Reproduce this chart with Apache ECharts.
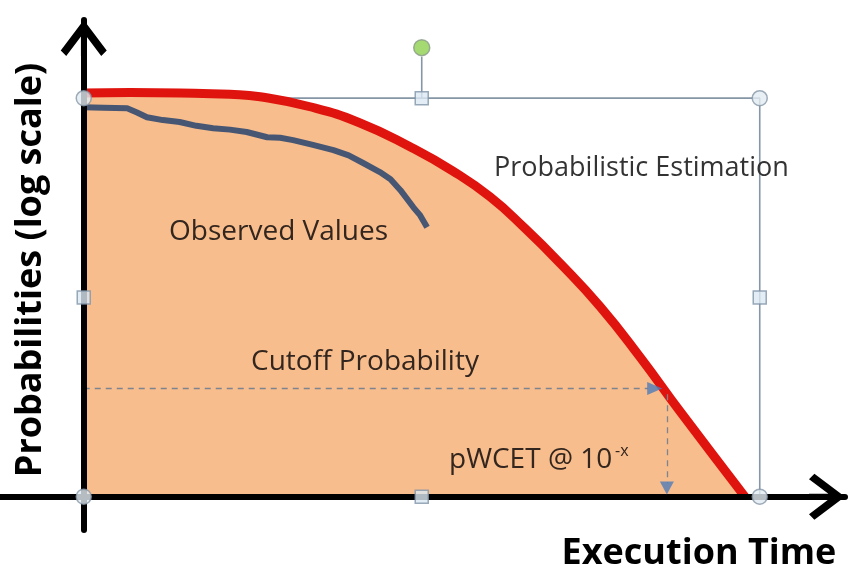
<!DOCTYPE html>
<html>
<head>
<meta charset="utf-8">
<script src="https://cdn.jsdelivr.net/npm/echarts@6/dist/echarts.min.js"></script>
<style>
  html, body { margin: 0; padding: 0; background: #fff; }
  #chart1 { width: 857px; height: 571px; }
</style>
</head>
<body>
<div id="chart1"></div>
<script>
(function(){

    // probabilistic estimation curve (execution time, log-probability level)
    var estX = [0, 6.08, 12.65, 19.22, 23.16, 29.72, 36.29, 42.86, 48.5, 53.37, 57.96, 62.56, 67.82, 73.07, 78.32, 86.86];
    var estY = [84.7, 84.8, 84.7, 84.4, 83.9, 81.8, 78.4, 73.4, 68.3, 62.9, 56.3, 49.0, 39.9, 29.3, 17.9, 0];

    // observed values
    var obsX = [0, 2.6, 5.7, 7.0, 8.3, 10.4, 12.6, 14.8, 17.0, 19.2, 21.4, 24.1, 25.8, 27.5, 30.1, 32.8, 34.8, 36.7, 38.9, 40.3, 41.6, 43.3, 44.2, 45.1];
    var obsY = [81.7, 81.6, 81.5, 80.6, 79.6, 79.0, 78.6, 77.8, 77.3, 77.0, 76.5, 75.4, 75.3, 74.8, 73.8, 72.7, 71.6, 70.0, 68.1, 66.6, 64.3, 60.7, 59.0, 56.5];

    // selection frame around the estimation
    var boxX = [0, 88.8, 88.8];
    var boxY = [83.6, 83.6, 0];
    var cornerHandles = [[0, 83.6], [88.8, 83.6], [0, 0], [88.8, 0]];
    var sideHandles = [[44.4, 83.6], [0, 41.8], [88.8, 41.8], [44.4, 0]];
    var rotateStem = [[44.4, 83.6], [44.4, 92.3]];
    var rotateKnob = [[44.4, 94.2]];

    // cutoff probability and pWCET
    var cutoffY = 22.7;
    var cutoffEndX = 74.1;
    var pwcetX = 76.6;
    var pwcetArrowY = 1.8;

    var chevron = 'path://M23 0 L46 30.6 L40.5 36 L25.8 16.6 L25.8 36 L20.2 36 L20.2 16.6 L5.5 36 L0 30.6 Z';

    function pairs(xs, ys){
        var out = [];
        for (var i = 0; i < xs.length; i++) out.push([xs[i], ys[i]]);
        return out;
    }

    var chart1 = echarts.init(document.getElementById('chart1'));

    var option = {
        animation: false,
        backgroundColor: '#ffffff',
        grid: { left: 0, right: 12, top: 20, bottom: 41 },
        xAxis: {
            type: 'value', min: -11, max: 100, z: 5,
            axisLine: { onZero: true, lineStyle: { color: '#000', width: 6 },
                symbol: ['none', chevron], symbolSize: [46, 36], symbolOffset: [0, -18] },
            axisTick: { show: false }, axisLabel: { show: false }, splitLine: { show: false }
        },
        yAxis: {
            type: 'value', min: -7, max: 100, z: 5,
            axisLine: { onZero: true, lineStyle: { color: '#000', width: 6 },
                symbol: ['none', chevron], symbolSize: [46, 36], symbolOffset: [0, -18] },
            axisTick: { show: false }, axisLabel: { show: false }, splitLine: { show: false }
        },
        series: [
            {
                type: 'line', data: pairs(boxX, boxY), symbol: 'none', z: 1,
                lineStyle: { color: '#8596a6', width: 1.6 }
            },
            {
                type: 'line', data: rotateStem, symbol: 'none', z: 1,
                lineStyle: { color: '#8596a6', width: 1.6 }
            },
            {
                name: 'Probabilistic Estimation', type: 'line', data: pairs(estX, estY),
                symbol: 'none', smooth: 0.5, z: 2,
                lineStyle: { color: '#e0140e', width: 9 },
                areaStyle: { color: '#f8bd8c', opacity: 1 }
            },
            {
                name: 'Observed Values', type: 'line', data: pairs(obsX, obsY),
                symbol: 'none', z: 3,
                lineStyle: { color: '#475673', width: 6, join: 'round' }
            },
            {
                type: 'line', data: [], z: 4,
                markLine: {
                    silent: true, symbol: 'none',
                    label: { show: false },
                    lineStyle: { color: '#7d8490', width: 1.3, type: [6, 5] },
                    data: [
                        [{ coord: [0, cutoffY] }, { coord: [cutoffEndX, cutoffY] }],
                        [{ coord: [pwcetX, cutoffY - 1.2] }, { coord: [pwcetX, pwcetArrowY + 1] }]
                    ]
                }
            },
            {
                type: 'scatter', z: 6, symbol: 'triangle', symbolSize: [13, 15], symbolRotate: -90,
                itemStyle: { color: '#4f7cb8' },
                data: [[cutoffEndX + 0.9, cutoffY]]
            },
            {
                type: 'scatter', z: 6, symbol: 'triangle', symbolSize: [14, 13], symbolRotate: 180,
                itemStyle: { color: '#4f7cb8' },
                data: [[pwcetX, pwcetArrowY]]
            },
            {
                type: 'scatter', z: 10, symbol: 'circle', symbolSize: 15,
                itemStyle: { color: '#e2ecf2', borderColor: '#8797a7', borderWidth: 1.5 },
                data: cornerHandles
            },
            {
                type: 'scatter', z: 10, symbol: 'rect', symbolSize: 13,
                itemStyle: { color: '#dce9f3', borderColor: '#7f94a8', borderWidth: 1.5 },
                data: sideHandles
            },
            {
                type: 'scatter', z: 10, symbol: 'circle', symbolSize: 16,
                itemStyle: { color: '#8fd14f', borderColor: '#8a9a8a', borderWidth: 1.5 },
                data: rotateKnob
            }
        ],
        graphic: [
            { type: 'text', x: 169, y: 232, z: 20,
              style: { text: 'Observed Values', font: '28px "Open Sans"', fill: '#33261f', textVerticalAlign: 'middle' } },
            { type: 'text', x: 494, y: 168, z: 20,
              style: { text: 'Probabilistic Estimation', font: '27px "Open Sans"', fill: '#333', textVerticalAlign: 'middle' } },
            { type: 'text', x: 251, y: 362, z: 20,
              style: { text: 'Cutoff Probability', font: '28px "Open Sans"', fill: '#33261f', textVerticalAlign: 'middle' } },
            { type: 'text', x: 449, y: 460, z: 20,
              style: { text: 'pWCET @ 10', font: '28px "Open Sans"', fill: '#33261f', textVerticalAlign: 'middle' } },
            { type: 'text', x: 615, y: 451, z: 20,
              style: { text: '-x', font: '16px "Open Sans"', fill: '#33261f', textVerticalAlign: 'middle' } },
            { type: 'text', x: 699, y: 554, z: 20,
              style: { text: 'Execution Time', font: 'bold 36px "Open Sans"', fill: '#000', textAlign: 'center', textVerticalAlign: 'middle' } },
            { type: 'text', x: 31, y: 270, z: 20, rotation: Math.PI / 2,
              style: { text: 'Probabilities (log scale)', font: 'bold 36px "Open Sans"', fill: '#000', textAlign: 'center', textVerticalAlign: 'middle' } }
        ]
    };

    chart1.setOption(option);
    window.onresize = chart1.resize;

})();
</script>
</body>
</html>
